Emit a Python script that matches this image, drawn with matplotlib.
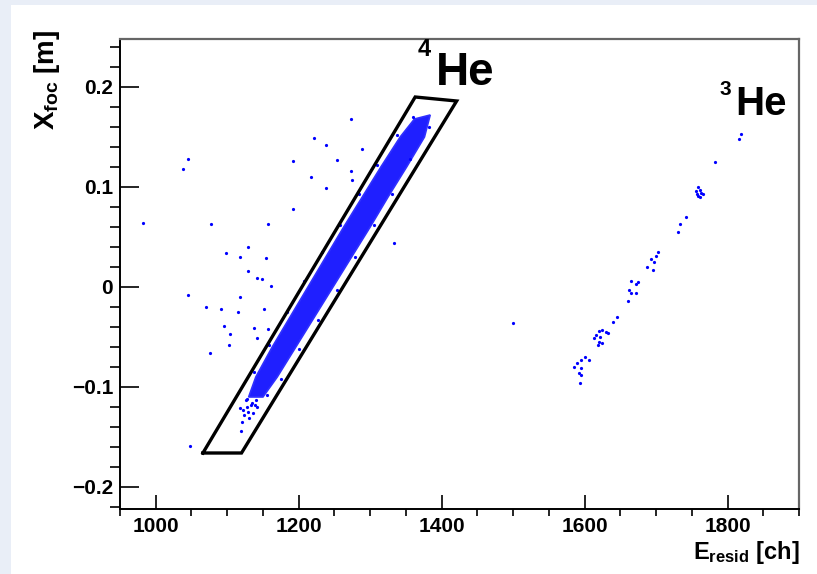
import numpy as np
import matplotlib.pyplot as plt
from matplotlib.patches import Rectangle, Polygon

plt.rcParams['font.family'] = ['Liberation Sans', 'DejaVu Sans']
plt.rcParams['font.weight'] = 'bold'
plt.rcParams['mathtext.fontset'] = 'custom'
plt.rcParams['mathtext.rm'] = 'Liberation Sans:bold'
plt.rcParams['mathtext.it'] = 'Liberation Sans:bold'
plt.rcParams['mathtext.bf'] = 'Liberation Sans:bold'

# --- data ---
# dense 4He band: left and right edges of the solid core
band_left_x = [1130, 1140, 1163, 1188, 1213, 1238, 1263, 1289, 1315, 1342, 1362]
band_left_y = [-0.110, -0.090, -0.060, -0.030, 0.000, 0.030, 0.060, 0.090, 0.120, 0.150, 0.168]
band_right_x = [1384, 1376, 1351, 1325, 1300, 1274, 1248, 1222, 1196, 1170, 1150]
band_right_y = [0.172, 0.150, 0.120, 0.090, 0.060, 0.030, 0.000, -0.030, -0.060, -0.090, -0.110]

# loose 4He points at the low tail and along the edges of the band
he4_x = [1118, 1122, 1127, 1134, 1124, 1131, 1129, 1136, 1120, 1119, 1126, 1139,
         1140, 1133, 1128, 1142,
         1137, 1158, 1184, 1208, 1233, 1258, 1284, 1310, 1337, 1360,
         1382, 1356, 1330, 1305, 1279, 1253, 1227, 1201, 1175, 1156]
he4_y = [-0.121, -0.123, -0.120, -0.116, -0.128, -0.131, -0.125, -0.126, -0.135, -0.144, -0.113, -0.118,
         -0.113, -0.118, -0.112, -0.120,
         -0.085, -0.058, -0.025, 0.006, 0.035, 0.062, 0.093, 0.122, 0.152, 0.170,
         0.160, 0.128, 0.093, 0.062, 0.030, -0.003, -0.033, -0.062, -0.092, -0.108]

# scattered background points
bg_x = [982, 1038, 1045, 1078, 1045, 1070, 1091, 1115, 1118, 1129, 1141, 1118, 1099,
        1095, 1104, 1102, 1076, 1137, 1141, 1048, 1273, 1221, 1238, 1288, 1192, 1253,
        1273, 1274, 1217, 1238, 1192, 1157, 1129, 1154, 1334, 1148, 1161, 1151, 1157, 1500]
bg_y = [0.064, 0.118, 0.128, 0.063, -0.008, -0.020, -0.022, -0.025, -0.010, 0.016, 0.009, 0.030, 0.034,
        -0.039, -0.047, -0.058, -0.066, -0.041, -0.051, -0.159, 0.168, 0.149, 0.142, 0.138, 0.126, 0.127,
        0.116, 0.107, 0.110, 0.099, 0.078, 0.063, 0.040, 0.029, 0.044, 0.008, 0.001, -0.022, -0.042, -0.036]

# 3He points
he3_x = [1819, 1816, 1782, 1756, 1759, 1762, 1765, 1758, 1761, 1763, 1757, 1742, 1733, 1731,
         1703, 1700, 1693, 1697, 1687, 1696, 1665, 1675, 1672, 1662, 1665, 1672, 1661,
         1645, 1640, 1620, 1624, 1630, 1633, 1616, 1613, 1622, 1620, 1624, 1619,
         1606, 1600, 1595, 1590, 1585, 1595, 1592, 1595, 1594]
he3_y = [0.153, 0.148, 0.125, 0.096, 0.100, 0.097, 0.093, 0.091, 0.090, 0.094, 0.093, 0.070, 0.063, 0.055,
         0.035, 0.031, 0.028, 0.025, 0.020, 0.017, 0.006, 0.005, 0.003, -0.003, -0.006, -0.006, -0.014,
         -0.030, -0.035, -0.044, -0.043, -0.045, -0.046, -0.048, -0.051, -0.050, -0.055, -0.056, -0.058,
         -0.073, -0.070, -0.073, -0.076, -0.080, -0.081, -0.086, -0.088, -0.096]

# graphical cut around 4He
cut_x = [1066, 1120, 1421, 1363, 1066]
cut_y = [-0.166, -0.166, 0.186, 0.190, -0.166]

fig = plt.figure(figsize=(8.17, 5.74), dpi=100)
fig.patch.set_facecolor('white')
# light frame strips of the page around the canvas
fig.patches.append(Rectangle((0, 0), 11 / 817, 1, transform=fig.transFigure,
                             facecolor='#e9eef7', edgecolor='none', zorder=-1))
fig.patches.append(Rectangle((0, 1 - 5 / 574), 1, 5 / 574, transform=fig.transFigure,
                             facecolor='#e9eef7', edgecolor='none', zorder=-1))

ax = fig.add_axes([120 / 817, 1 - 509 / 574, 679 / 817, 470 / 574])

band = Polygon(list(zip(band_left_x + band_right_x, band_left_y + band_right_y)),
               closed=True, facecolor='#1f1fff', edgecolor='#3030ff', linewidth=1.2)
ax.add_patch(band)
ms = 2.3
ax.plot(he4_x, he4_y, 'o', color='blue', ms=ms, mec='none')
ax.plot(bg_x, bg_y, 'o', color='blue', ms=ms, mec='none')
ax.plot(he3_x, he3_y, 'o', color='blue', ms=ms, mec='none')
ax.plot(cut_x, cut_y, color='black', lw=2.4, solid_joinstyle='miter')

ax.set_xlim(950, 1900)
ax.set_ylim(-0.222, 0.248)
ax.set_xticks([1000, 1200, 1400, 1600, 1800])
ax.set_xticks(np.arange(950, 1901, 50), minor=True)
ax.set_yticks([-0.2, -0.1, 0, 0.1, 0.2])
ax.set_yticklabels(['\u22120.2', '\u22120.1', '0', '0.1', '0.2'])
ax.set_yticks(np.arange(-0.22, 0.25, 0.02), minor=True)

ax.tick_params(axis='both', direction='in', labelsize=15, width=1.2, colors='black')
ax.tick_params(axis='y', which='major', length=14, pad=5)
ax.tick_params(axis='y', which='minor', length=7, width=1.2)
ax.tick_params(axis='x', which='major', length=10, pad=6)
ax.tick_params(axis='x', which='minor', length=5, width=1.2)
for lab in ax.get_xticklabels() + ax.get_yticklabels():
    lab.set_fontweight('bold')

for s in ['top', 'right']:
    ax.spines[s].set_color('#666666')
    ax.spines[s].set_linewidth(1.6)
for s in ['left', 'bottom']:
    ax.spines[s].set_color('black')
    ax.spines[s].set_linewidth(1.4)

fig.text(47 / 817, 1 - 30 / 574, r'X$_{\rm foc}$ [m]', rotation=90, ha='center', va='top',
         fontsize=20, fontweight='bold')
fig.text(800 / 817, 1 - 559 / 574, r'E$_{\rm resid}$ [ch]', ha='right', va='baseline',
         fontsize=17, fontweight='bold')

fig.text(436 / 817, 1 - 85 / 574, 'He', ha='left', va='baseline', fontsize=33, fontweight='bold')
fig.text(418 / 817, 1 - 56 / 574, '4', ha='left', va='baseline', fontsize=17, fontweight='bold')
fig.text(735 / 817, 1 - 115 / 574, 'He', ha='left', va='baseline', fontsize=29, fontweight='bold')
fig.text(719 / 817, 1 - 95 / 574, '3', ha='left', va='baseline', fontsize=15, fontweight='bold')

fig.savefig('out.png', dpi=100, facecolor=fig.get_facecolor())
